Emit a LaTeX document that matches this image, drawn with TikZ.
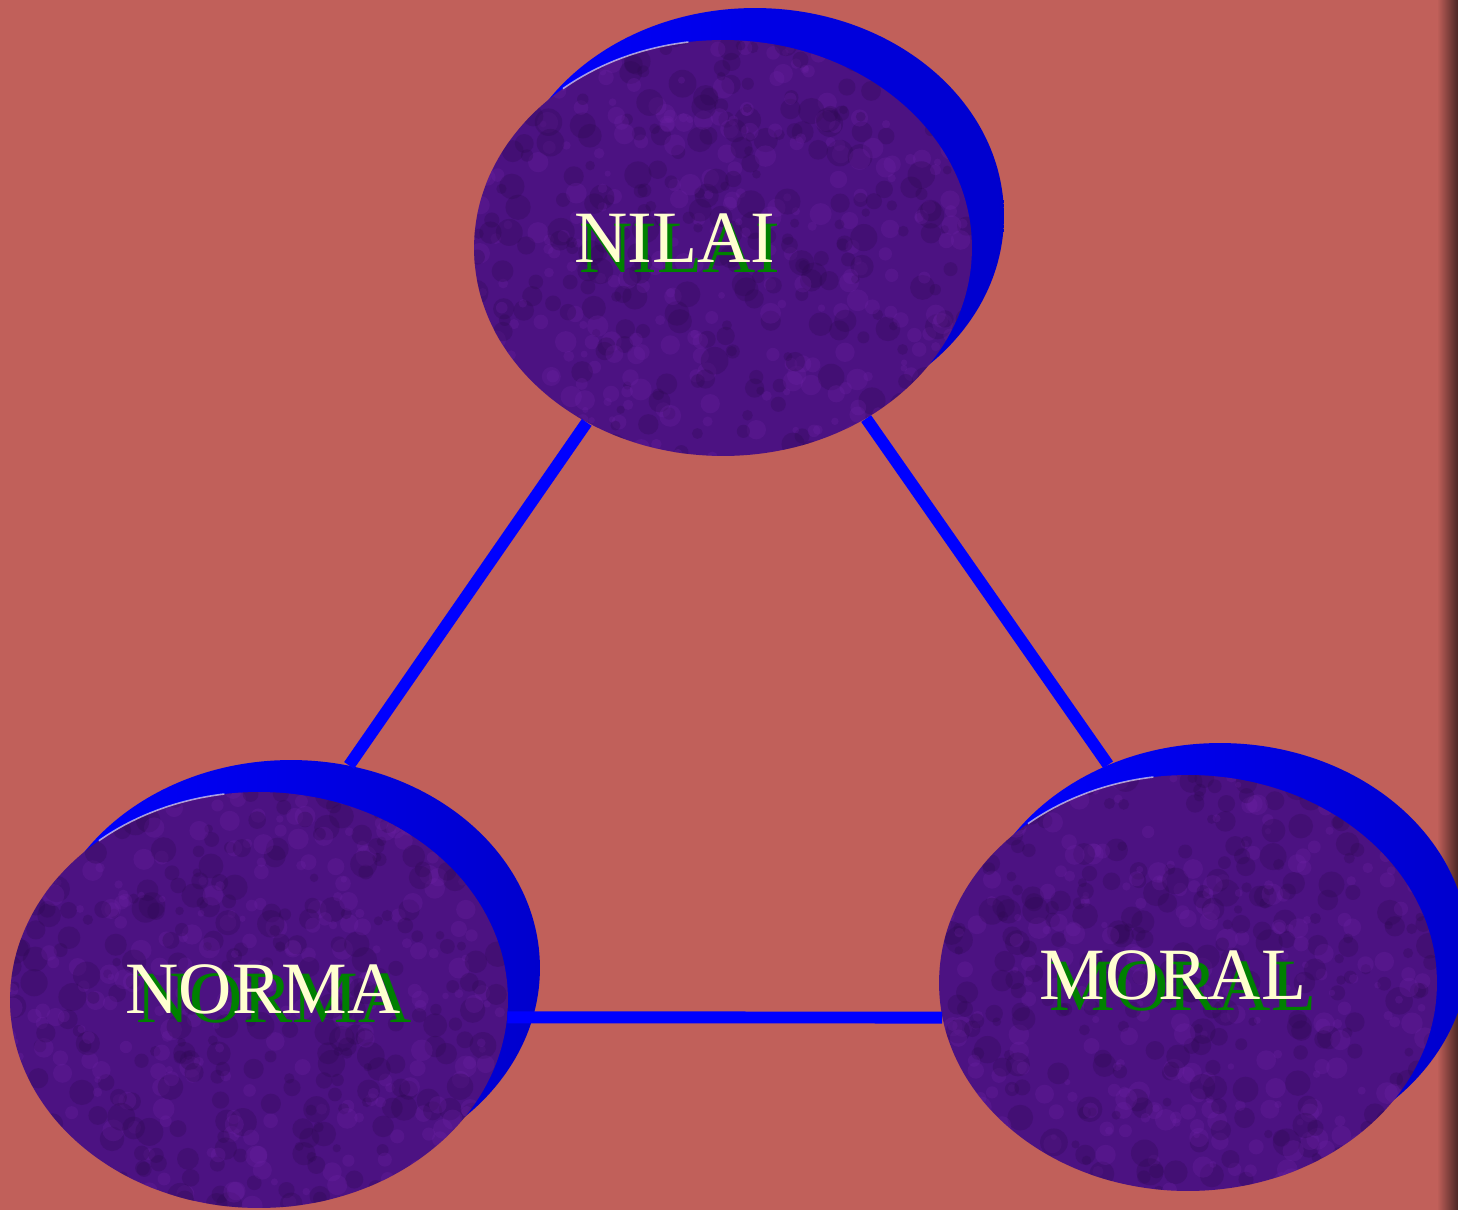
\documentclass[tikz,border=0pt]{standalone}
\usepackage{fontspec}
\setmainfont{Liberation Serif}
\usetikzlibrary{shapes.geometric}
\definecolor{bgc}{RGB}{193,96,90}
\definecolor{edgedark}{RGB}{75,38,36}
\definecolor{purp}{RGB}{76,18,130}
\definecolor{purpdark}{RGB}{45,8,80}
\definecolor{purplight}{RGB}{112,34,168}
\definecolor{cream}{RGB}{255,255,208}
\definecolor{dgreen}{RGB}{0,128,0}
\definecolor{bluedark}{RGB}{0,0,205}
\begin{document}
\begin{tikzpicture}[x=0.02cm,y=-0.02cm,
  backell/.style={ellipse, minimum width=9.96cm, minimum height=8.32cm, inner sep=0pt,
    draw=none, left color=blue, middle color=blue, right color=bluedark},
  frontell/.style={ellipse, minimum width=9.96cm, minimum height=8.32cm, inner sep=0pt,
    draw=none, fill=purp,
    path picture={
      \pgfmathsetseed{#1}
      \foreach \i in {1,...,300}{
        \pgfmathsetmacro{\px}{rnd*500-250}
        \pgfmathsetmacro{\py}{rnd*420-210}
        \pgfmathsetmacro{\pr}{4+rnd*10}
        \fill[purpdark, opacity=0.28] ([shift={(\px,\py)}]path picture bounding box.center) circle (\pr);
        \pgfmathsetmacro{\qx}{rnd*500-250}
        \pgfmathsetmacro{\qy}{rnd*420-210}
        \pgfmathsetmacro{\qr}{3+rnd*8}
        \fill[purplight, opacity=0.25] ([shift={(\qx,\qy)}]path picture bounding box.center) circle (\qr);
      }
    }},
  shine/.style={draw=white, opacity=0.6, line width=0.9pt},
  link/.style={draw=blue, line width=6.8pt},
  wordtop/.style={text=cream, font=\fontsize{42}{50}\selectfont, anchor=base, inner sep=0pt},
  wordshadow/.style={text=dgreen, font=\fontsize{42}{50}\selectfont, anchor=base, inner sep=0pt}
]
\useasboundingbox (0,0) rectangle (1458,1210);
\clip (0,0) rectangle (1458,1210);
\fill[bgc] (0,0) rectangle (1458,1210);
% right frame edge
\shade[left color=bgc, right color=edgedark] (1437,0) rectangle (1458,1210);

% back (blue) ellipses
\node[backell] (nilaib) at (755,216) {};
\node[backell] (normab) at (291,968) {};
\node[backell] (moralb) at (1220,951) {};

% front (purple) ellipses
\node[frontell=11] (nilaif) at (723,248) {};
\node[frontell=23] (normaf) at (259,1000) {};
\node[frontell=37] (moralf) at (1188,983) {};

% highlights
\draw[shine] (nilaif.center) ++(230:249 and 208) arc[start angle=230, end angle=262, x radius=249, y radius=208];
\draw[shine] (normaf.center) ++(230:249 and 208) arc[start angle=230, end angle=262, x radius=249, y radius=208];
\draw[shine] (moralf.center) ++(230:249 and 208) arc[start angle=230, end angle=262, x radius=249, y radius=208];

% connectors
\draw[link] (nilaif.232) -- (normab.74);
\draw[link] (nilaif.310) -- (moralb.121);
\draw[link] (normaf.-4) -- (moralf.188);

% labels
\node[wordshadow] (nilais) at (680,272) {NILAI};
\node[wordtop] (nilait) at (675,262) {NILAI};
\node[wordshadow] (normas) at (274,1022) {NORMA};
\node[wordtop] (normat) at (263,1013) {NORMA};
\node[wordshadow] (morals) at (1183,1010) {MORAL};
\node[wordtop] (moralt) at (1173,999) {MORAL};
\end{tikzpicture}
\end{document}
